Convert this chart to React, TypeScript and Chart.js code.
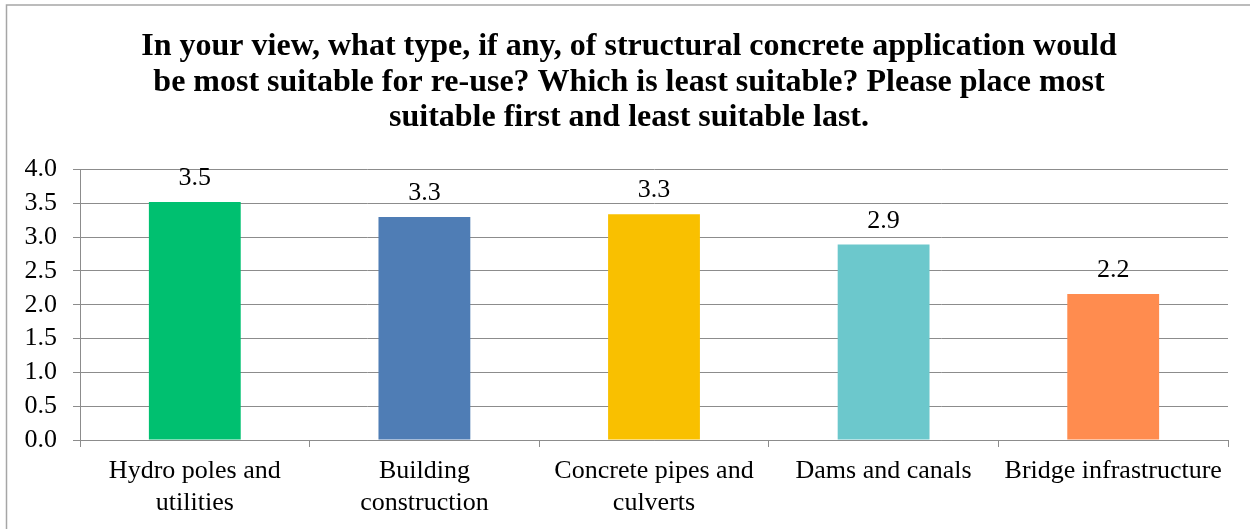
import React, { useEffect, useRef } from "react";
import { Chart, registerables } from "chart.js";

Chart.register(...registerables);

const titleLines = [
  "In your view, what type, if any, of structural concrete application would",
  "be most suitable for re-use? Which is least suitable? Please place most",
  "suitable first and least suitable last.",
];
const categories = [
  ["Hydro poles and", "utilities"],
  ["Building", "construction"],
  ["Concrete pipes and", "culverts"],
  ["Dams and canals"],
  ["Bridge infrastructure"],
];
const values = [3.52, 3.3, 3.34, 2.89, 2.16];
const barColors = ["#00C070", "#4F7DB5", "#F9C000", "#6CC8CC", "#FF8C4F"];
const yMin = 0;
const yMax = 4;
const yStep = 0.5;

const FONT = "'Liberation Serif', 'Times New Roman', serif";

const valueLabels = {
  id: "valueLabels",
  afterDatasetsDraw(chart: any) {
    const ctx = chart.ctx;
    const meta = chart.getDatasetMeta(0);
    ctx.save();
    ctx.font = `26px ${FONT}`;
    ctx.fillStyle = "#000";
    ctx.textAlign = "center";
    ctx.textBaseline = "alphabetic";
    meta.data.forEach((bar: any, i: number) => {
      ctx.fillText(values[i].toFixed(1), bar.x, bar.y - 17);
    });
    ctx.restore();
  },
};

const outerBorder = {
  id: "outerBorder",
  beforeDraw(chart: any) {
    const ctx = chart.ctx;
    ctx.save();
    ctx.fillStyle = "#fff";
    ctx.fillRect(0, 0, chart.width, chart.height);
    ctx.strokeStyle = "#a6a6a6";
    ctx.lineWidth = 1.5;
    ctx.strokeRect(6.5, 5, chart.width + 50, chart.height + 50);
    ctx.restore();
  },
};

export default function App() {
  const ref = useRef<HTMLCanvasElement>(null);
  useEffect(() => {
    if (!ref.current) return;
    const chart = new Chart(ref.current, {
      type: "bar",
      data: {
        labels: categories,
        datasets: [
          {
            data: values,
            backgroundColor: barColors,
            borderWidth: 0,
            categoryPercentage: 1,
            barPercentage: 0.4,
            yAxisID: "y",
          },
        ],
      },
      plugins: [outerBorder, valueLabels],
      options: {
        animation: false,
        responsive: false,
        devicePixelRatio: 1,
        layout: { padding: { left: 8, right: 0, top: 0, bottom: 0 } },
        plugins: {
          legend: { display: false },
          tooltip: { enabled: false },
          title: {
            display: true,
            text: titleLines,
            color: "#000",
            font: { family: FONT, size: 32, weight: "bold", lineHeight: 1.11 },
            padding: { top: 29, bottom: 34 },
          },
        },
        scales: {
          x: {
            grid: {
              display: true,
              drawOnChartArea: false,
              drawTicks: true,
              tickLength: 7,
              color: "#8c8c8c",
            },
            border: { display: true, color: "#8c8c8c" },
            ticks: {
              color: "#000",
              font: { family: FONT, size: 26, lineHeight: 1.23 },
              padding: 8,
              maxRotation: 0,
              autoSkip: false,
            },
            afterFit(scale: any) {
              scale.height = 89;
            },
          },
          y: {
            min: yMin,
            max: yMax,
            grid: { color: "#8c8c8c", tickLength: 7 },
            border: { display: true, color: "#8c8c8c" },
            ticks: {
              stepSize: yStep,
              autoSkip: false,
              color: "#000",
              font: { family: FONT, size: 26 },
              padding: 16,
              callback: (v: any) => Number(v).toFixed(1),
            },
            afterFit(scale: any) {
              scale.width = 72;
            },
          },
          yRightSpacer: {
            type: "linear",
            position: "right",
            display: true,
            grid: { display: false, drawTicks: false },
            border: { display: false },
            ticks: { display: false },
            afterFit(scale: any) {
              scale.width = 22;
            },
          },
        },
      },
    });
    return () => chart.destroy();
  }, []);
  return (
    <div style={{ position: "fixed", left: 0, top: 0, width: 1250, height: 529, background: "#fff" }}>
      <canvas ref={ref} width={1250} height={529} style={{ display: "block", width: 1250, height: 529 }} />
    </div>
  );
}
